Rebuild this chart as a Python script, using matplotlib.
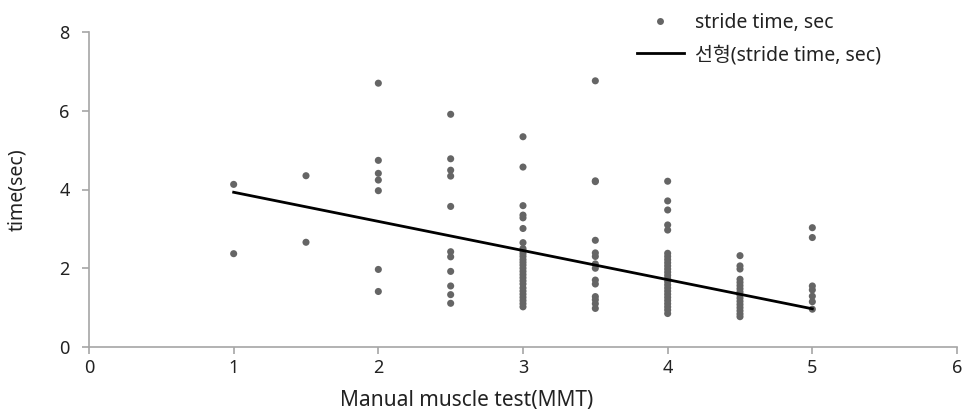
import numpy as np
import matplotlib.pyplot as plt
from matplotlib.lines import Line2D

plt.rcParams['font.family'] = ['Noto Sans', 'Noto Sans CJK KR', 'DejaVu Sans']

# MMT grade -> stride time values
mmt_1 = [4.13, 2.37]
mmt_15 = [4.35, 2.66]
mmt_2 = [6.70, 4.74, 4.41, 4.24, 3.97, 1.97, 1.41]
mmt_25 = [5.91, 4.78, 4.49, 4.34, 3.57, 2.42, 2.29, 1.92, 1.55, 1.33, 1.11]
mmt_3 = [5.34, 4.57, 3.59, 3.35, 3.28, 3.01, 2.65, 2.50, 2.44, 2.37, 2.30, 2.22,
         2.15, 2.08, 2.00, 1.92, 1.84, 1.76, 1.68, 1.60, 1.50, 1.42, 1.34, 1.26,
         1.18, 1.10, 1.02]
mmt_35 = [6.76, 4.22, 4.20, 2.71, 2.39, 2.30, 2.11, 2.00, 1.70, 1.60, 1.28, 1.20,
          1.10, 0.98]
mmt_4 = [4.21, 3.71, 3.48, 3.10, 2.97, 2.38, 2.30, 2.22, 2.14, 2.06, 1.98, 1.90,
         1.82, 1.74, 1.66, 1.58, 1.50, 1.42, 1.34, 1.26, 1.18, 1.10, 1.02, 0.94,
         0.85]
mmt_45 = [2.32, 2.06, 1.98, 1.72, 1.64, 1.56, 1.48, 1.40, 1.32, 1.24, 1.16, 1.08,
          1.00, 0.92, 0.84, 0.77]
mmt_5 = [3.03, 2.78, 1.55, 1.45, 1.29, 1.15, 0.96]

grades = [1, 1.5, 2, 2.5, 3, 3.5, 4, 4.5, 5]
columns = [mmt_1, mmt_15, mmt_2, mmt_25, mmt_3, mmt_35, mmt_4, mmt_45, mmt_5]

# linear trend line endpoints
fit_x = [1, 5]
fit_y = [3.93, 0.97]

xs = np.concatenate([[g] * len(c) for g, c in zip(grades, columns)])
ys = np.concatenate(columns)

fig = plt.figure(figsize=(9.68, 4.16), dpi=100)
ax = fig.add_axes([89 / 968, 1 - 347 / 416, (957 - 89) / 968, (347 - 32) / 416])

dot_color = '#656565'
ax.scatter(xs, ys, s=26, color=dot_color, edgecolors='none', zorder=2)
ax.plot(fit_x, fit_y, color='black', lw=2, zorder=3)

ax.set_xlim(0, 6)
ax.set_ylim(0, 8)
ax.set_xticks(range(0, 7))
ax.set_yticks(range(0, 9, 2))

for side in ['top', 'right']:
    ax.spines[side].set_visible(False)
for side in ['left', 'bottom']:
    ax.spines[side].set_color('#a6a6a6')
    ax.spines[side].set_linewidth(1.2)
ax.tick_params(direction='out', length=5, width=1.2, color='#a6a6a6',
               labelsize=13, labelcolor='#222222')
ax.tick_params(axis='y', pad=9)

ax.set_xlabel('Manual muscle test(MMT)', fontsize=15, color='#222222')
ax.set_ylabel('time(sec)', fontsize=14, color='#222222')
ax.xaxis.set_label_coords((467 - 89) / 868, -43 / 315)
ax.yaxis.set_label_coords(-(89 - 27) / 868, 0.5)

handles = [
    Line2D([], [], ls='none', marker='o', ms=5, color=dot_color, mec='none'),
    Line2D([], [], color='black', lw=2),
]
fig.legend(handles, ['stride time, sec', '선형(stride time, sec)'],
           loc='upper left', bbox_to_anchor=(637 / 968, 1 - 13 / 416), frameon=False,
           fontsize=14, handlelength=2.4, handletextpad=0.6, labelspacing=0.62,
           borderpad=0, borderaxespad=0, labelcolor='#222222')

fig.savefig('out.png', dpi=100)
